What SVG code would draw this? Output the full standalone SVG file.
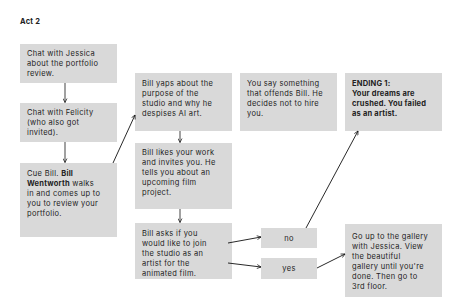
<svg xmlns="http://www.w3.org/2000/svg" width="460" height="306" viewBox="0 0 460 306">
<defs>
<marker id="ah" viewBox="0 0 10 10" refX="9" refY="5" markerWidth="5" markerHeight="5" orient="auto" markerUnits="userSpaceOnUse">
<path d="M1,1 L9,5 L1,9" fill="none" stroke="#111" stroke-width="1.4"/>
</marker>
<style>
.box{fill:#d9d9d9}
text{font-family:Inter,"Liberation Sans",sans-serif;font-size:7.5px;letter-spacing:0.32px;fill:#222}
.b{font-weight:700;letter-spacing:0.2px}
.c{text-anchor:middle}
.g{stroke:#6f6f6f;stroke-width:1.3;fill:none}
.k{stroke:#111;stroke-width:0.9;fill:none}
</style>
</defs>
<rect width="460" height="306" fill="#ffffff"/>
<text x="20" y="24" class="b">Act 2</text>
<g id="n1"><rect class="box" x="20" y="44" width="97" height="39"/>
<text x="27" y="56">Chat with Jessica</text><text x="27" y="66">about the portfolio</text><text x="27" y="76">review.</text></g>
<g id="n2"><rect class="box" x="20" y="103" width="97" height="39"/>
<text x="27" y="115">Chat with Felicity</text><text x="27" y="125">(who also got</text><text x="27" y="135">invited).</text></g>
<g id="n3"><rect class="box" x="20" y="163" width="97" height="74"/>
<text x="27" y="176">Cue Bill. <tspan class="b">Bill</tspan></text><text x="27" y="186"><tspan class="b">Wentworth</tspan> walks</text><text x="27" y="196">in and comes up to</text><text x="27" y="206">you to review your</text><text x="27" y="216">portfolio.</text></g>
<g id="n4"><rect class="box" x="135" y="73" width="97" height="58"/>
<text x="142" y="86">Bill yaps about the</text><text x="142" y="96">purpose of the</text><text x="142" y="106">studio and why he</text><text x="142" y="116">despises AI art.</text></g>
<g id="n5"><rect class="box" x="135" y="143" width="97" height="66"/>
<text x="142" y="155">Bill likes your work</text><text x="142" y="165">and invites you. He</text><text x="142" y="175">tells you about an</text><text x="142" y="185">upcoming film</text><text x="142" y="195">project.</text></g>
<g id="n6"><rect class="box" x="135" y="223" width="97" height="56"/>
<text x="142" y="236">Bill asks if you</text><text x="142" y="246">would like to join</text><text x="142" y="256">the studio as an</text><text x="142" y="266">artist for the</text><text x="142" y="276">animated film.</text></g>
<g id="n7"><rect class="box" x="240" y="73" width="97" height="58"/>
<text x="247" y="86">You say something</text><text x="247" y="96">that offends Bill. He</text><text x="247" y="106">decides not to hire</text><text x="247" y="116">you.</text></g>
<g id="n8"><rect class="box" x="345" y="73" width="97" height="58"/>
<text x="352" y="86" class="b">ENDING 1:</text><text x="352" y="96" class="b">Your dreams are</text><text x="352" y="106" class="b">crushed. You failed</text><text x="352" y="116" class="b">as an artist.</text></g>
<g id="n9"><rect class="box" x="261" y="228" width="56" height="20"/>
<text x="289" y="240.5" class="c">no</text></g>
<g id="n10"><rect class="box" x="261" y="258" width="56" height="21"/>
<text x="289" y="271" class="c">yes</text></g>
<g id="n11"><rect class="box" x="345" y="224" width="97" height="73"/>
<text x="352" y="239">Go up to the gallery</text><text x="352" y="249">with Jessica. View</text><text x="352" y="259">the beautiful</text><text x="352" y="269">gallery until you're</text><text x="352" y="279">done. Then go to</text><text x="352" y="289">3rd floor.</text></g>
<g id="connectors">
<path class="g" d="M65,83 V102.5" marker-end="url(#ah)"/>
<path class="g" d="M65,142 V162.5" marker-end="url(#ah)"/>
<path class="g" d="M180,131 V142.5" marker-end="url(#ah)"/>
<path class="g" d="M180,209 V222.5" marker-end="url(#ah)"/>
<path class="k" d="M113,163 L135,115" marker-end="url(#ah)"/>
<path class="k" d="M228,243 L261,237" marker-end="url(#ah)"/>
<path class="k" d="M228,263 L261,267" marker-end="url(#ah)"/>
<path class="k" d="M306,228 L358,131" marker-end="url(#ah)"/>
<path class="k" d="M317,268 L345,254" marker-end="url(#ah)"/>
</g>
</svg>
